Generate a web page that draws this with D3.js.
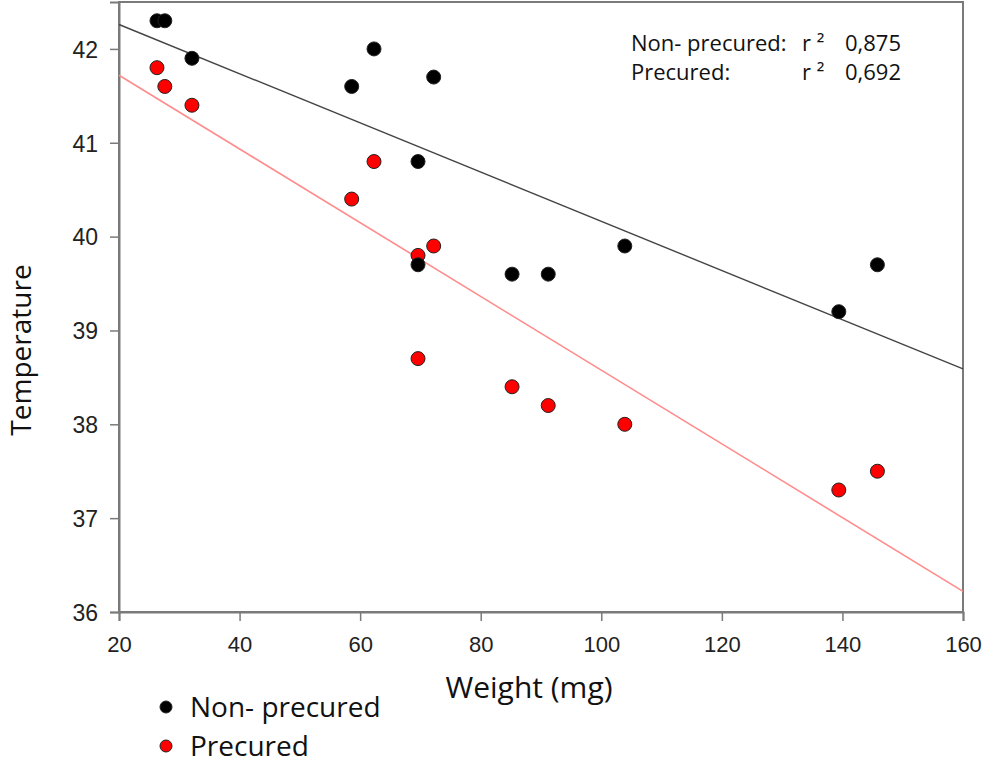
<!DOCTYPE html>
<html>
<head>
<meta charset="utf-8">
<script src="https://cdn.jsdelivr.net/npm/d3@7"></script>
<style>
  html, body { margin: 0; padding: 0; background: #fff; }
  svg { display: block; }
</style>
</head>
<body>
<svg id="chart" width="985" height="764"></svg>
<script>
// ---- data ----
const weights = [26.3, 27.6, 32.1, 58.6, 62.3, 69.6, 69.6, 72.2, 85.2, 91.2, 103.9, 139.4, 145.8];
const nonPrecured = [42.3, 42.3, 41.9, 41.6, 42.0, 40.8, 39.7, 41.7, 39.6, 39.6, 39.9, 39.2, 39.7];
const precured = [41.8, 41.6, 41.4, 40.4, 40.8, 39.8, 38.7, 39.9, 38.4, 38.2, 38.0, 37.3, 37.5];
const fitNonPrecured = [[20, 42.26], [160, 38.59]];
const fitPrecured = [[20, 41.72], [160, 36.22]];
const xTicks = [20, 40, 60, 80, 100, 120, 140, 160];
const yTicks = [36, 37, 38, 39, 40, 41, 42];
const seriesNames = ["Non- precured", "Precured"];
const r2Labels = ["Non- precured:", "Precured:"];
const r2Values = ["0,875", "0,692"];
const xTitle = "Weight (mg)";
const yTitle = "Temperature";

// ---- layout ----
const svg = d3.select("#chart");
const L = 119, R = 963, T = 2, B = 612;
const x = d3.scaleLinear().domain([20, 160]).range([L, R]);
const y = d3.scaleLinear().domain([36, 42.5]).range([B, T]);

const frameColor = "#7a7a7a";
const tickFont = "'Liberation Sans', Arial, sans-serif";
const labelFont = "'Open Sans', 'Noto Sans', sans-serif";

// frame
svg.append("rect")
  .attr("x", L).attr("y", T).attr("width", R - L).attr("height", B - T)
  .attr("fill", "none").attr("stroke", frameColor).attr("stroke-width", 2);

// axes
const xAxis = d3.axisBottom(x).tickValues(xTicks).tickSize(9).tickFormat(d3.format("d"));
const gx = svg.append("g").attr("transform", `translate(0,${B})`).call(xAxis);
gx.select(".domain").attr("stroke", frameColor).attr("stroke-width", 2);
gx.selectAll(".tick line").attr("stroke", frameColor).attr("stroke-width", 1.5);
gx.selectAll(".tick text")
  .attr("font-family", tickFont).attr("font-size", 22).attr("fill", "#222")
  .attr("dy", 0).attr("y", 40);

const yAxis = d3.axisLeft(y).tickValues(yTicks).tickSize(9).tickFormat(d3.format("d"));
const gy = svg.append("g").attr("transform", `translate(${L},0)`).call(yAxis);
gy.select(".domain").attr("stroke", frameColor).attr("stroke-width", 2);
gy.selectAll(".tick line").attr("stroke", frameColor).attr("stroke-width", 1.5);
gy.selectAll(".tick text")
  .attr("font-family", tickFont).attr("font-size", 23).attr("fill", "#222")
  .attr("x", -21).attr("dy", "0.36em");

// regression lines
const line = d3.line().x(d => x(d[0])).y(d => y(d[1]));
svg.append("path").datum(fitNonPrecured).attr("d", line)
  .attr("fill", "none").attr("stroke", "#444").attr("stroke-width", 1.4);
svg.append("path").datum(fitPrecured).attr("d", line)
  .attr("fill", "none").attr("stroke", "#ff8c8c").attr("stroke-width", 1.6);

// points
function drawPoints(vals, fill) {
  svg.append("g").selectAll("circle")
    .data(weights.map((w, i) => [w, vals[i]]))
    .join("circle")
    .attr("cx", d => x(d[0])).attr("cy", d => y(d[1]))
    .attr("r", 7)
    .attr("fill", fill).attr("stroke", "#222").attr("stroke-width", 1);
}
drawPoints(precured, "#ff0000");
drawPoints(nonPrecured, "#000000");

// r2 annotation
const ann = svg.append("g").attr("font-family", labelFont).attr("font-size", 22).attr("fill", "#111");
[51, 80].forEach((by, i) => {
  ann.append("text").attr("x", 631).attr("y", by).text(r2Labels[i]);
  ann.append("text").attr("x", 802).attr("y", by).text("r ²");
  ann.append("text").attr("x", 845).attr("y", by).text(r2Values[i]);
});

// axis titles
svg.append("text").attr("x", 529).attr("y", 698).attr("text-anchor", "middle")
  .attr("font-family", labelFont).attr("font-size", 30).attr("fill", "#111").text(xTitle);
svg.append("text").attr("transform", "translate(31,350) rotate(-90)").attr("text-anchor", "middle")
  .attr("font-family", labelFont).attr("font-size", 28).attr("fill", "#111").text(yTitle);

// legend
const legColors = ["#000000", "#ff0000"];
const legY = [707, 746];
seriesNames.forEach((name, i) => {
  svg.append("circle").attr("cx", 166).attr("cy", legY[i]).attr("r", 6)
    .attr("fill", legColors[i]).attr("stroke", "#222").attr("stroke-width", 1);
  svg.append("text").attr("x", 190).attr("y", legY[i] + 10)
    .attr("font-family", labelFont).attr("font-size", 28).attr("fill", "#111").text(name);
});
</script>
</body>
</html>
